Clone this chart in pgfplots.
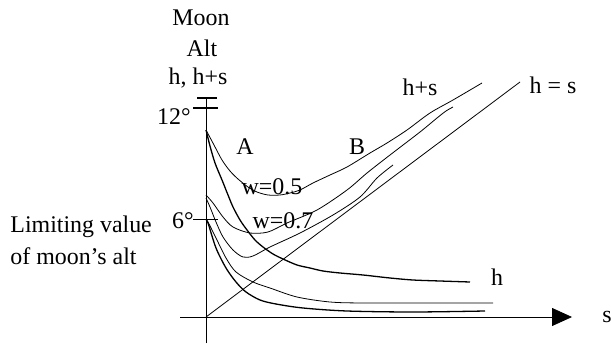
\documentclass[border=0pt]{standalone}
\usepackage{fontspec}
\setmainfont{Liberation Serif}
\usepackage{pgfplots}
\pgfplotsset{compat=1.18}
\usetikzlibrary{arrows.meta}
\begin{document}
\begin{tikzpicture}
\begin{axis}[at={(0,0)},anchor=south west,
  scale only axis, width=305.5bp, height=172.5bp,
  xmin=0, xmax=611, ymin=0, ymax=345, y dir=reverse,
  hide axis, clip=false,
  cycle list={{black,solid,mark=none,line width=0.65pt}},
  nodes={font=\fontsize{12}{14}\selectfont, inner sep=0pt}]
% axes
\addplot+[-{Triangle[length=10bp,width=9bp]}] coordinates {(180,317) (572,317)};
\addplot+[] coordinates {(206,343) (206,98)};
\addplot+[line width=1.5pt] coordinates {(197,98) (217,98)};
\addplot+[] coordinates {(193,108) (218,108)};
\addplot+[] coordinates {(193,219) (218,219)};
% h = s
\addplot+[] coordinates {(206,317) (520,82)};
% A: h+s
\addplot+[smooth] coordinates {(206,130) (214,145) (222,160) (230,171) (238,179) (248,187) (257,192) (268,195) (280,195) (290,193) (300,190) (313,183) (330,175) (347,167) (370,153) (387,143) (407,130) (430,113) (453,100) (482,83)};
% A: h
\addplot+[smooth] coordinates {(206,130) (210,146) (215,163) (222,180) (228,195) (233,207) (240,220) (247,230) (255,240) (263,247) (273,254) (283,259) (297,265) (310,268) (323,271) (340,273) (363,275) (390,278) (413,280) (440,281) (470,282)};
% B: h+s
\addplot+[smooth] coordinates {(206,195) (213,203) (223,217) (233,227) (250,233) (268,232) (287,223) (317,210) (347,190) (367,173) (390,155) (420,132) (437,118) (446,111) (453,107)};
% C: h+s
\addplot+[smooth] coordinates {(206,198) (210,207) (216,222) (223,237) (233,250) (243,257) (253,256) (270,247) (300,233) (333,215) (360,197) (377,178) (393,165)};
% h curves
\addplot+[smooth] coordinates {(206,220) (208,222) (216,238) (226,258) (236,272) (253,282) (270,288) (297,297) (330,302) (363,303) (420,303) (493,303)};
\addplot+[smooth] coordinates {(206,220) (208,223) (216,248) (226,268) (236,282) (246,292) (260,300) (276,304) (303,308) (347,311) (413,312) (485,311)};
% labels
\node at (axis cs:201,18) {Moon};
\node at (axis cs:202,48) {Alt};
\node at (axis cs:198,78) {h, h+s};
\node[anchor=east] at (axis cs:191,117) {12°};
\node[anchor=east] at (axis cs:194,221) {6°};
\node[anchor=west] at (axis cs:10,227) {Limiting value};
\node[anchor=west] at (axis cs:10,256) {of moon’s alt};
\node at (axis cs:245,147) {A};
\node at (axis cs:357,147) {B};
\node at (axis cs:272,187) {w=0.5};
\node at (axis cs:283,221) {w=0.7};
\node at (axis cs:497,277) {h};
\node at (axis cs:420,87) {h+s};
\node at (axis cs:553,85) {h = s};
\node[anchor=west] at (axis cs:602,317) {s};
\end{axis}
\pgfresetboundingbox
\path (0,0) rectangle (305.5bp,172.5bp);
\end{tikzpicture}
\end{document}
